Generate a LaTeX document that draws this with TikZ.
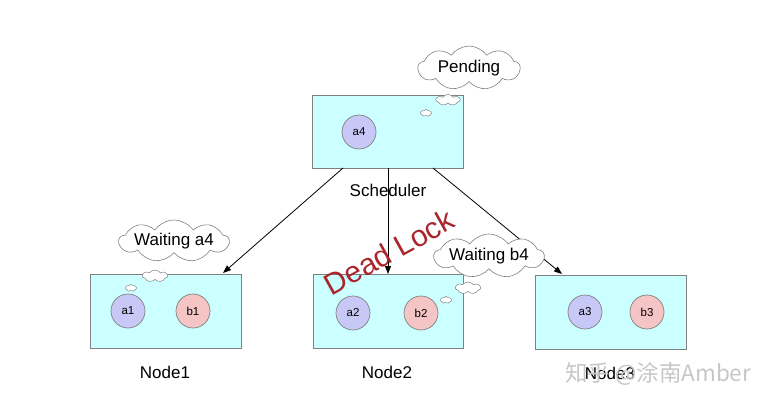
\documentclass[tikz,border=0pt]{standalone}
\usepackage{fontspec}
\setmainfont{Liberation Sans}
\newfontfamily\cjk{Noto Sans CJK SC}
\usetikzlibrary{shapes.symbols,arrows.meta}
\definecolor{boxfill}{HTML}{CCFFFF}
\definecolor{afill}{HTML}{C8C8F6}
\definecolor{bfill}{HTML}{F5C4C4}
\definecolor{edge}{HTML}{808080}
\definecolor{deadred}{HTML}{A8262C}
\tikzset{
  x=1pt, y=-1pt,
  hostbox/.style={draw=edge, fill=boxfill, line width=0.7pt},
  task/.style={circle, draw=edge, line width=0.7pt, minimum size=34pt, inner sep=0pt, font=\fontsize{11.5}{12}\selectfont},
  atask/.style={task, fill=afill},
  btask/.style={task, fill=bfill},
  lbl/.style={font=\fontsize{17}{18}\selectfont, inner sep=0pt},
  think/.style={cloud, cloud puffs=9, cloud puff arc=110, cloud ignores aspect, draw=edge, fill=white, line width=0.6pt, inner sep=0pt, font=\fontsize{17}{18}\selectfont},
  puff/.style={cloud, cloud puffs=7, cloud puff arc=110, cloud ignores aspect, draw=edge, fill=white, line width=0.5pt, inner sep=0pt},
  conn/.style={draw=black, line width=0.8pt, -{Triangle[length=8pt,width=6pt]}},
}
\begin{document}
\begin{tikzpicture}
\useasboundingbox (0,0) rectangle (774,405);
\fill[white] (0,0) rectangle (774,405);

% Scheduler
\node[hostbox, minimum width=151pt, minimum height=73pt, inner sep=0pt, anchor=north west] (sched) at (312,95) {};
\node[atask] (a4) at (359,132) {a4};
\node[lbl] (schedl) at (388,190) {Scheduler};
\node[puff, minimum width=24pt, minimum height=11pt] (sp1) at (448,100) {};
\node[puff, minimum width=11pt, minimum height=7pt] (sp2) at (426,113) {};
\node[think, minimum width=102pt, minimum height=44pt] (pending) at (469,68) {Pending};

% Node1
\node[hostbox, minimum width=151pt, minimum height=74pt, inner sep=0pt, anchor=north west] (n1) at (90,274) {};
\node[atask] (a1) at (128,311) {a1};
\node[btask] (b1) at (193,311) {b1};
\node[lbl] (n1l) at (165,372) {Node1};
\node[think, minimum width=106pt, minimum height=42pt] (wa4) at (174,241) {Waiting a4};
\node[puff, minimum width=25pt, minimum height=12pt] (n1p1) at (155,276) {};
\node[puff, minimum width=11pt, minimum height=7pt] (n1p2) at (131,288) {};

% Node2
\node[hostbox, minimum width=150pt, minimum height=74pt, inner sep=0pt, anchor=north west] (n2) at (313,274) {};
\node[atask] (a2) at (353,313) {a2};
\node[btask] (b2) at (421,313) {b2};
\node[lbl] (n2l) at (387,372) {Node2};
\node[puff, minimum width=25pt, minimum height=12pt] (n2p1) at (468,288) {};
\node[puff, minimum width=11pt, minimum height=7pt] (n2p2) at (446,300) {};

% Node3
\node[hostbox, minimum width=151pt, minimum height=74pt, inner sep=0pt, anchor=north west] (n3) at (535,275) {};
\node[atask] (a3) at (585,312) {a3};
\node[btask] (b3) at (647,312) {b3};
\node[lbl] (n3l) at (610,373) {Node3};

% connectors
\coordinate (s1) at (343,168);
\coordinate (s2) at (388,168);
\coordinate (s3) at (433,168);
\coordinate (e1) at (223,273);
\coordinate (e2) at (388,274);
\coordinate (e3) at (562,274);
\draw[conn] (s1) -- (e1);
\draw[conn] (s2) -- (e2);
\draw[conn] (s3) -- (e3);

\node[think, minimum width=104pt, minimum height=44pt] (wb4) at (489,256) {Waiting b4};

% Dead Lock
\node[text=deadred, font=\fontsize{30}{32}\selectfont, rotate=29, inner sep=0pt] (dead) at (389,252) {Dead Lock};

% watermark
\node[text=black!22, font=\cjk\fontsize{22.5}{23}\selectfont, inner sep=0pt, anchor=west] (wm) at (565,374) {知乎 @涂南Amber};
\end{tikzpicture}
\end{document}
